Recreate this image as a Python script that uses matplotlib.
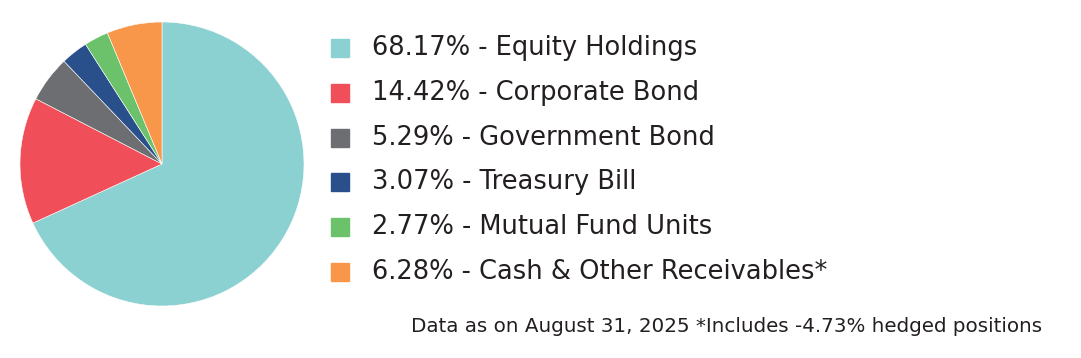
import matplotlib
matplotlib.use("Agg")
import matplotlib.pyplot as plt
from matplotlib.patches import Rectangle

# ---------------------------------------------------------------------------
# Data
# ---------------------------------------------------------------------------
labels = ["Equity Holdings", "Corporate Bond", "Government Bond",
          "Treasury Bill", "Mutual Fund Units", "Cash & Other Receivables*"]
shares = [68.17, 14.42, 5.29, 3.07, 2.77, 6.28]
colors = ["#8bd1d1", "#f04e59", "#6d6e71", "#29508a", "#6cc26b", "#f8974a"]
footnote = "Data as on August 31, 2025 *Includes -4.73% hedged positions"

TEXT = "#231f20"
W, H = 1081, 358

fig = plt.figure(figsize=(W / 100, H / 100), dpi=100)

# ── Pie ────────────────────────────────────────────────────────────────────
ax = fig.add_axes([20 / W, (H - 306) / H, 284 / W, 284 / H])
ax.pie(shares, colors=colors, startangle=90, counterclock=False,
       radius=1.0, wedgeprops={"linewidth": 0.4, "edgecolor": "white"})
ax.set_xlim(-1, 1)
ax.set_ylim(-1, 1)
ax.set_aspect("equal")
ax.axis("off")

# ── Legend (manual) ────────────────────────────────────────────────────────
y0, dy = 48, 44.8
for i, (lab, val, col) in enumerate(zip(labels, shares, colors)):
    yc = y0 + i * dy
    fig.patches.append(Rectangle((331 / W, (H - yc - 9) / H), 18 / W, 18 / H,
                                 transform=fig.transFigure, color=col))
    fig.text(372 / W, (H - yc) / H, f"{val:.2f}% - {lab}", fontsize=18.5,
             family="DejaVu Sans", color=TEXT, va="center", ha="left")

fig.text(1042 / W, (H - 326) / H, footnote, fontsize=14.3, family="DejaVu Sans",
         color=TEXT, va="center", ha="right")

fig.savefig("out.png", dpi=100)
